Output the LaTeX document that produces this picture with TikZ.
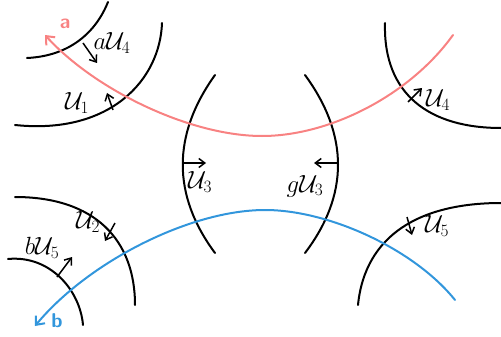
\documentclass[tikz,border=0pt]{standalone}
\usepackage{amsmath,amssymb,xcolor}
\definecolor{pathred}{RGB}{248,130,130}
\definecolor{pathblue}{RGB}{50,150,220}
\usetikzlibrary{arrows.meta}

\tikzset{
  wall/.style={draw=black,line width=2pt,line cap=round},
  normal/.style={-{Straight Barb[length=6pt,width=9pt]},line width=1.5pt},
  lab/.style={font=\fontsize{24}{26}\selectfont,inner sep=0pt}
}

\begin{document}
\begin{tikzpicture}[x=1pt,y=-1pt]
  \useasboundingbox (0,0) rectangle (501,337);
  % walls, top row
  \draw[wall] (27,58) .. controls (70,56) and (96,32) .. (108,2);
  \draw[wall] (15,125) .. controls (110,135) and (160,80) .. (162,23);
  \draw[wall] (385,23) .. controls (383,95) and (430,128) .. (501,128);
  % walls, middle
  \draw[wall] (215,75) .. controls (172,135) and (172,195) .. (215,253);
  \draw[wall] (305,75) .. controls (349,135) and (349,195) .. (305,253);
  % walls, bottom row
  \draw[wall] (15,197) .. controls (95,197) and (135,240) .. (135,305);
  \draw[wall] (8,259) .. controls (50,255) and (80,290) .. (83,325);
  \draw[wall] (358,305) .. controls (365,235) and (420,203) .. (501,203);
  % paths
  \draw[pathred,line width=2pt,line cap=round,-{Straight Barb[length=7pt,width=12pt]}]
    (453,35) .. controls (410,95) and (330,136) .. (262,136)
    .. controls (190,136) and (95,90) .. (45,35);
  \draw[pathblue,line width=2pt,line cap=round,-{Straight Barb[length=7pt,width=12pt]}]
    (455,300) .. controls (415,250) and (330,210) .. (265,210)
    .. controls (190,210) and (88,262) .. (35,326);
  \node[text=pathred,font=\fontsize{20}{22}\sffamily\bfseries,inner sep=0pt] (la) at (65,24) {a};
  \node[text=pathblue,font=\fontsize{20}{22}\sffamily\bfseries,inner sep=0pt] (lb) at (57,321) {b};
  % normals and labels
  \draw[normal] (83,43) -- (97,63);
  \node[lab] (ua4) at (112,43) {$a\mathcal{U}_4$};
  \draw[normal] (113,110) -- (107,93);
  \node[lab] (u1) at (77,103) {$\mathcal{U}_1$};
  \draw[normal] (408,102) -- (422,88);
  \node[lab] (u4) at (438,100) {$\mathcal{U}_4$};
  \draw[normal] (182,163) -- (206,163);
  \node[lab] (u3) at (200,182) {$\mathcal{U}_3$};
  \draw[normal] (338,163) -- (314,163);
  \node[lab] (gu3) at (305,186) {$g\mathcal{U}_3$};
  \draw[normal] (115,223) -- (105,241);
  \node[lab] (u2) at (88,222) {$\mathcal{U}_2$};
  \draw[normal] (57,277) -- (72,257);
  \node[lab] (bu5) at (42,248) {$b\mathcal{U}_5$};
  \draw[normal] (407,217) -- (412,235);
  \node[lab] (u5) at (437,226) {$\mathcal{U}_5$};
\end{tikzpicture}
\end{document}
